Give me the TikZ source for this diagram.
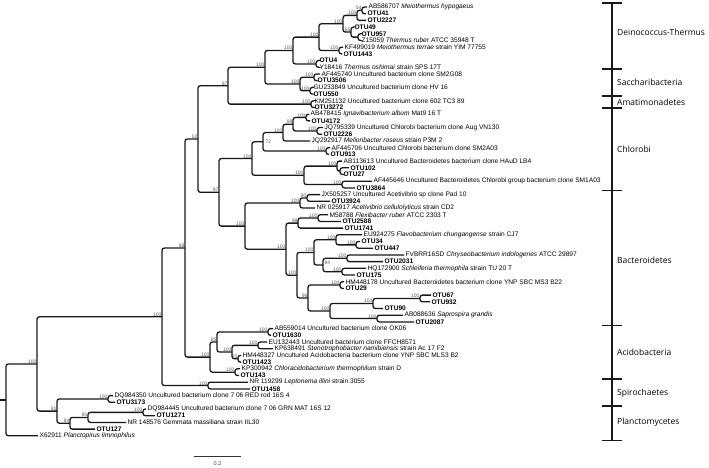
\documentclass[tikz,border=0pt]{standalone}
\usepackage{fontspec}
\setmainfont{Liberation Sans}
\newfontfamily\cladefont{Open Sans}
\begin{document}
\begin{tikzpicture}[x=1pt, y=-1pt,
  br/.style={line width=1.3pt, rounded corners=2.4pt, draw=black!90},
  leaf/.style={anchor=west, inner sep=1.4pt, font=\fontsize{6.6}{7}\selectfont},
  otu/.style={leaf, font=\fontsize{6.6}{7}\selectfont\bfseries},
  bs/.style={anchor=south east, inner sep=0.3pt, text=black!65, font=\fontsize{5}{5}\selectfont},
  clade/.style={anchor=west, inner sep=0pt, font=\fontsize{8.5}{10}\cladefont}]
\useasboundingbox (0,0) rectangle (709,468);

% leaves
\node[leaf] (l0) at (367,7.0) {AB586707 \textit{Meiothermus hypogaeus}};
\node[otu] (l1) at (366,13.7) {OTU41};
\node[otu] (l2) at (366,20.4) {OTU2227};
\node[otu] (l3) at (353,27.1) {OTU49};
\node[otu] (l4) at (360,33.8) {OTU957};
\node[leaf] (l5) at (360,40.5) {Z15059 \textit{Thermus ruber} ATCC 35948 T};
\node[leaf] (l6) at (343,47.2) {KF499019 \textit{Meiothermus terrae} strain YIM 77755};
\node[otu] (l7) at (342,53.9) {OTU1443};
\node[otu] (l8) at (318,60.6) {OTU4};
\node[leaf] (l9) at (318,67.3) {Y18416 \textit{Thermus oshimai} strain SPS 17T};
\node[leaf] (l10) at (320,74.0) {AF445740 Uncultured bacterium clone SM2G08};
\node[otu] (l11) at (316,80.7) {OTU3506};
\node[leaf] (l12) at (312,87.4) {GU233849 Uncultured bacterium clone HV 16};
\node[otu] (l13) at (312,94.1) {OTU550};
\node[leaf] (l14) at (313,100.8) {KM251132 Uncultured bacterium clone 602 TC3 89};
\node[otu] (l15) at (313,107.5) {OTU3272};
\node[leaf] (l16) at (309,114.2) {AB478415 \textit{Ignavibacterium album} Mat9 16 T};
\node[otu] (l17) at (310,120.9) {OTU4172};
\node[leaf] (l18) at (323,127.6) {JQ795339 Uncultured Chlorobi bacterium clone Aug VN130};
\node[otu] (l19) at (322,134.3) {OTU2226};
\node[leaf] (l20) at (310,141.0) {JQ292917 \textit{Melioribacter roseus} strain P3M 2};
\node[leaf] (l21) at (330,147.7) {AF445706 Uncultured Chlorobi bacterium clone SM2A03};
\node[otu] (l22) at (329,154.4) {OTU913};
\node[leaf] (l23) at (342,161.1) {AB113613 Uncultured Bacteroidetes bacterium clone HAuD LB4};
\node[otu] (l24) at (349,167.8) {OTU102};
\node[otu] (l25) at (342,174.5) {OTU27};
\node[leaf] (l26) at (372,181.2) {AF445646 Uncultured Bacteroidetes Chlorobi group bacterium clone SM1A03};
\node[otu] (l27) at (355,187.9) {OTU3864};
\node[leaf] (l28) at (320,194.6) {JX505257 Uncultured Acetivibrio sp clone Pad 10};
\node[otu] (l29) at (330,201.3) {OTU3924};
\node[leaf] (l30) at (315,208.0) {NR 025917 \textit{Acetivibrio cellulolyticus} strain CD2};
\node[leaf] (l31) at (328,214.7) {M58788 \textit{Flexibacter ruber} ATCC 2303 T};
\node[otu] (l32) at (341,221.4) {OTU2588};
\node[otu] (l33) at (343,228.1) {OTU1741};
\node[leaf] (l34) at (362,234.8) {EU924275 \textit{Flavobacterium chungangense} strain CJ7};
\node[otu] (l35) at (360,241.5) {OTU34};
\node[otu] (l36) at (373,248.2) {OTU447};
\node[leaf] (l37) at (404,254.9) {FVBRR16SD \textit{Chryseobacterium indologenes} ATCC 29897};
\node[otu] (l38) at (383,261.6) {OTU2031};
\node[leaf] (l39) at (366,268.3) {HQ172900 \textit{Schleiferia thermophila} strain TU 20 T};
\node[otu] (l40) at (355,275.0) {OTU175};
\node[leaf] (l41) at (344,281.7) {HM448178 Uncultured Bacteroidetes bacterium clone YNP SBC MS3 B22};
\node[otu] (l42) at (344,288.4) {OTU29};
\node[otu] (l43) at (431,295.1) {OTU67};
\node[otu] (l44) at (430,301.8) {OTU932};
\node[otu] (l45) at (383,308.5) {OTU90};
\node[leaf] (l46) at (403,315.2) {AB088636 \textit{Saprospira grandis}};
\node[otu] (l47) at (414,321.9) {OTU2087};
\node[leaf] (l48) at (273,328.6) {AB559014 Uncultured bacterium clone OK06};
\node[otu] (l49) at (271,335.3) {OTU1630};
\node[leaf] (l50) at (267,342.0) {EU132443 Uncultured bacterium clone FFCH8571};
\node[leaf] (l51) at (273,348.7) {KP638491 \textit{Stenotrophobacter namibiensis} strain Ac 17 F2};
\node[leaf] (l52) at (241,355.4) {HM448327 Uncultured Acidobacteria bacterium clone YNP SBC MLS3 B2};
\node[otu] (l53) at (241,362.1) {OTU1423};
\node[leaf] (l54) at (240,368.8) {KP300942 \textit{Chloracidobacterium thermophilum} strain D};
\node[otu] (l55) at (239,375.5) {OTU143};
\node[leaf] (l56) at (248,382.2) {NR 119299 \textit{Leptonema illini} strain 3055};
\node[otu] (l57) at (250,388.9) {OTU1458};
\node[leaf] (l58) at (113,395.6) {DQ984350 Uncultured bacterium clone 7 06 RED rod 16S 4};
\node[otu] (l59) at (115,402.3) {OTU3173};
\node[leaf] (l60) at (146,409.0) {DQ984445 Uncultured bacterium clone 7 06 GRN MAT 16S 12};
\node[otu] (l61) at (155,415.7) {OTU1271};
\node[leaf] (l62) at (126,422.4) {NR 148576 Gemmata massiliana strain IIL30};
\node[otu] (l63) at (95,429.1) {OTU127};
\node[leaf] (l64) at (38,435.8) {X62911 \textit{Planctopirus limnophilus}};

% internal nodes
\coordinate (p01) at (362,10.35);
\coordinate (n012) at (357,15.4);
\coordinate (p45) at (358,37.15);
\coordinate (j) at (351,32.1);
\coordinate (i) at (343,23.75);
\coordinate (p67) at (339,50.55);
\coordinate (k) at (319,37.15);
\coordinate (p89) at (316,63.95);
\coordinate (h) at (293,50.55);
\coordinate (p1011) at (314,77.35);
\coordinate (p1213) at (310,90.75);
\coordinate (sac) at (300,84.05);
\coordinate (g) at (265,67.3);
\coordinate (p1415) at (311,104.15);
\coordinate (e) at (228,85.7);
\coordinate (p1617) at (306,117.55);
\coordinate (p1819) at (317,130.95);
\coordinate (n) at (293,124.25);
\coordinate (m) at (283,132.6);
\coordinate (p2122) at (326,151.05);
\coordinate (ca) at (263,141.8);
\coordinate (p2425) at (340,171.15);
\coordinate (pb) at (337,166.1);
\coordinate (p2627) at (342,184.55);
\coordinate (o) at (304,175.3);
\coordinate (chl) at (252,158.55);
\coordinate (p2829) at (307,197.95);
\coordinate (q1) at (300,203.0);
\coordinate (p3132) at (318,218.05);
\coordinate (s1) at (298,223.1);
\coordinate (p3536) at (356,244.85);
\coordinate (v1) at (336,239.8);
\coordinate (p3738) at (347,258.25);
\coordinate (p3940) at (342,271.65);
\coordinate (w1) at (323,264.95);
\coordinate (u1) at (314,252.4);
\coordinate (p4142) at (340,285.05);
\coordinate (p4344) at (420,298.45);
\coordinate (z1) at (373,303.5);
\coordinate (p4647) at (377,318.55);
\coordinate (y1) at (330,311.0);
\coordinate (x1) at (308,298.0);
\coordinate (t1) at (297,275.2);
\coordinate (r1) at (286,249.15);
\coordinate (bac) at (245,226.1);
\coordinate (f) at (219,192.3);
\coordinate (d) at (198,139.0);
\coordinate (p4849) at (268,331.95);
\coordinate (p5051) at (258,345.35);
\coordinate (p5253) at (238,358.75);
\coordinate (ab) at (232,352.05);
\coordinate (a85) at (217,342.0);
\coordinate (p5455) at (235,372.15);
\coordinate (acid) at (210,357.1);
\coordinate (c) at (185,248.05);
\coordinate (spi) at (208,385.55);
\coordinate (b) at (162,316.8);
\coordinate (p5859) at (108,398.95);
\coordinate (s) at (143,412.35);
\coordinate (r) at (88,417.4);
\coordinate (q) at (70,423.25);
\coordinate (p) at (57,411.1);
\coordinate (a) at (37,363.95);
\coordinate (root) at (6,399.9);
\coordinate (stub) at (0,399.9);

% branches
\draw[br] (stub) -- (root);
\foreach \u/\v in {root/a, root/l64.west, a/b, a/p, b/c, b/spi, c/d, c/acid, d/e, d/f,
  e/g, e/p1415, g/h, g/sac, h/k, h/p89, k/i, k/p67, i/n012, i/j, n012/p01, n012/l2.west,
  p01/l0.west, p01/l1.west, j/l3.west, j/p45, p45/l4.west, p45/l5.west, p67/l6.west, p67/l7.west,
  p89/l8.west, p89/l9.west, sac/p1011, sac/p1213, p1011/l10.west, p1011/l11.west,
  p1213/l12.west, p1213/l13.west, p1415/l14.west, p1415/l15.west,
  f/chl, f/bac, chl/ca, chl/o, ca/m, ca/p2122, m/n, m/l20.west, n/p1617, n/p1819,
  p1617/l16.west, p1617/l17.west, p1819/l18.west, p1819/l19.west, p2122/l21.west, p2122/l22.west,
  o/pb, o/p2627, pb/l23.west, pb/p2425, p2425/l24.west, p2425/l25.west, p2627/l26.west, p2627/l27.west,
  bac/q1, bac/r1, q1/p2829, q1/l30.west, p2829/l28.west, p2829/l29.west,
  r1/s1, r1/t1, s1/p3132, s1/l33.west, p3132/l31.west, p3132/l32.west,
  t1/u1, t1/x1, u1/v1, u1/w1, v1/l34.west, v1/p3536, p3536/l35.west, p3536/l36.west,
  w1/p3738, w1/p3940, p3738/l37.west, p3738/l38.west, p3940/l39.west, p3940/l40.west,
  x1/p4142, x1/y1, p4142/l41.west, p4142/l42.west, y1/z1, y1/p4647,
  z1/p4344, z1/l45.west, p4344/l43.west, p4344/l44.west, p4647/l46.west, p4647/l47.west,
  acid/a85, acid/p5455, a85/p4849, a85/ab, ab/p5051, ab/p5253,
  p4849/l48.west, p4849/l49.west, p5051/l50.west, p5051/l51.west,
  p5253/l52.west, p5253/l53.west, p5455/l54.west, p5455/l55.west,
  spi/l56.west, spi/l57.west, p/p5859, p/q, p5859/l58.west, p5859/l59.west,
  q/r, q/l63.west, r/s, r/l62.west, s/l60.west, s/l61.west}
  \draw[br] (\u) |- (\v);

% support values
\foreach \u/\w in {a/100, b/100, c/88, d/52, e/97, g/100, h/100, k/100, i/100, n012/100, p01/54,
  j/65, p67/100, p89/100, sac/100, p1011/100, p1213/100, p1415/100, f/97, chl/100, m/100, n/99,
  p1617/100, p1819/100, p2122/100, o/100, pb/100, p2627/100, bac/100, q1/100, p2829/90,
  r1/100, s1/98, p3132/100, t1/100, u1/100, v1/100, p3536/100, p3738/100, p3940/100,
  x1/96, p4142/100, y1/100, z1/100, p4344/100, p4647/100, acid/100, a85/85, p4849/100,
  ab/100, p5051/100, p5253/70, p5455/100, spi/100, p/91, p5859/100, q/84, r/80, s/100}
  \node[bs] (s-\u) at (\u) {\w};
\node[bs, anchor=west, xshift=2pt] (s-ca) at (ca) {72};
\node[bs, anchor=south west, xshift=1pt] (s-w1) at (w1) {94};

% clade bar
\foreach \y [count=\t from 0] in {3,69,96,108,190.7,325.7,379,406,440.7}
  \coordinate (t\t) at (612,\y);
\draw[line width=1.2pt, black!90] (t0) -- (t8);
\foreach \t in {0,...,8}
  \draw[line width=1.2pt, black!90] ([xshift=-10pt]t\t) -- ([xshift=10pt]t\t);
\node[clade] (dt) at (617,32) {Deinococcus-Thermus};
\node[clade] (sa) at (617,82) {Saccharibacteria};
\node[clade] (am) at (617,102) {Amatimonadetes};
\node[clade] (ch) at (617,149) {Chlorobi};
\node[clade] (bc) at (617,260) {Bacteroidetes};
\node[clade] (ac) at (617,352) {Acidobacteria};
\node[clade] (sp) at (617,393) {Spirochaetes};
\node[clade] (pl) at (617,422) {Planctomycetes};

% scale bar
\coordinate (sb0) at (194,456);
\coordinate (sb1) at (241,456);
\draw[line width=0.8pt, black!80] (sb0) -- (sb1);
\node[font=\fontsize{5.5}{6}\selectfont, text=black!75] (sbl) at (217.5,464) {0.2};
\end{tikzpicture}
\end{document}
